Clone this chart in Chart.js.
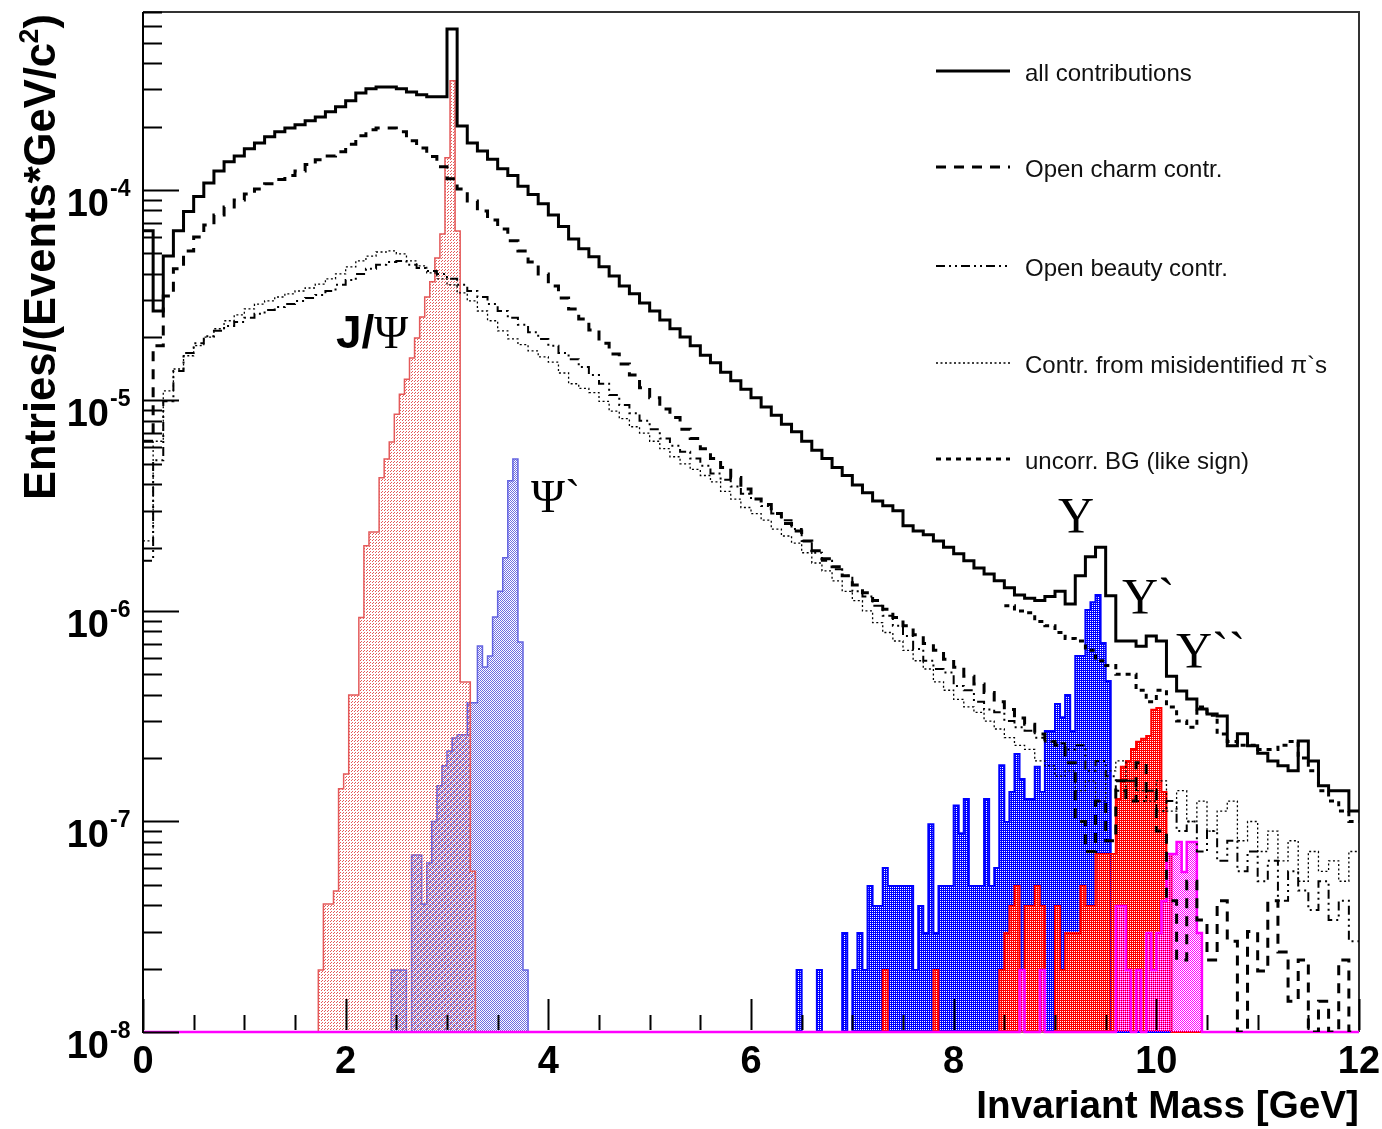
<!DOCTYPE html>
<html>
<head>
<meta charset="utf-8">
<script src="https://cdn.jsdelivr.net/npm/chart.js@4.4.1/dist/chart.umd.min.js"></script>
<style>
  html, body { margin: 0; padding: 0; background: #fff; }
  #wrap { width: 1382px; height: 1129px; position: relative; }
</style>
</head>
<body>
<div id="wrap"><canvas id="mass-chart"></canvas></div>
<script>
// ---- data (entries per 0.1 GeV bin for the backgrounds, 0.05 GeV for the resonances) ----
var FLOOR = 1e-8;
var bgStart = 0, bgWidth = 0.1;

var allContrib = [
  6.4e-5, 2.66e-5, 4.85e-5, 6.4e-5, 7.9e-5, 9.3e-5, 1.08e-4, 1.23e-4, 1.36e-4, 1.45e-4,
  1.57e-4, 1.67e-4, 1.79e-4, 1.89e-4, 1.97e-4, 2.04e-4, 2.13e-4, 2.22e-4, 2.35e-4, 2.48e-4,
  2.65e-4, 2.89e-4, 3.02e-4, 3.08e-4, 3.08e-4, 3.02e-4, 2.92e-4, 2.83e-4, 2.77e-4, 2.77e-4,
  5.82e-4, 2.01e-4, 1.67e-4, 1.53e-4, 1.40e-4, 1.26e-4, 1.17e-4, 1.04e-4, 9.5e-5, 8.6e-5,
  7.6e-5, 6.7e-5, 5.85e-5, 5.25e-5, 4.81e-5, 4.31e-5, 3.90e-5, 3.50e-5, 3.21e-5, 2.90e-5,
  2.66e-5, 2.41e-5, 2.19e-5, 2.00e-5, 1.82e-5, 1.64e-5, 1.51e-5, 1.36e-5, 1.24e-5, 1.13e-5,
  1.03e-5, 9.3e-6, 8.5e-6, 7.7e-6, 7.1e-6, 6.4e-6, 5.8e-6, 5.3e-6, 4.8e-6, 4.4e-6,
  3.97e-6, 3.64e-6, 3.33e-6, 3.16e-6, 2.99e-6, 2.54e-6, 2.40e-6, 2.30e-6, 2.15e-6, 2.01e-6,
  1.87e-6, 1.73e-6, 1.60e-6, 1.50e-6, 1.39e-6, 1.29e-6, 1.19e-6, 1.15e-6, 1.12e-6, 1.17e-6,
  1.24e-6, 1.08e-6, 1.47e-6, 1.81e-6, 2.01e-6, 1.18e-6, 7.2e-7, 7.2e-7, 6.8e-7, 7.6e-7,
  7.2e-7, 4.9e-7, 4.17e-7, 3.82e-7, 3.42e-7, 3.24e-7, 3.17e-7, 2.29e-7, 2.61e-7, 2.29e-7,
  2.11e-7, 1.94e-7, 1.84e-7, 1.74e-7, 2.41e-7, 1.94e-7, 1.48e-7, 1.40e-7, 1.40e-7, 1.12e-7
];

var openCharm = [
  6.4e-6, 1.82e-5, 3.13e-5, 4.22e-5, 5.13e-5, 5.98e-5, 6.82e-5, 7.6e-5, 8.3e-5, 8.95e-5,
  9.57e-5, 1.01e-4, 1.07e-4, 1.12e-4, 1.17e-4, 1.23e-4, 1.32e-4, 1.39e-4, 1.45e-4, 1.52e-4,
  1.65e-4, 1.81e-4, 1.93e-4, 1.97e-4, 1.97e-4, 1.89e-4, 1.71e-4, 1.58e-4, 1.44e-4, 1.29e-4,
  1.13e-4, 1.01e-4, 8.87e-5, 7.94e-5, 7.19e-5, 6.53e-5, 5.73e-5, 5.13e-5, 4.55e-5, 3.99e-5,
  3.50e-5, 3.07e-5, 2.72e-5, 2.44e-5, 2.16e-5, 1.87e-5, 1.66e-5, 1.49e-5, 1.32e-5, 1.15e-5,
  1.03e-5, 9.1e-6, 8.3e-6, 7.3e-6, 6.6e-6, 5.9e-6, 5.3e-6, 4.8e-6, 4.3e-6, 3.8e-6,
  3.4e-6, 3.2e-6, 2.9e-6, 2.6e-6, 2.4e-6, 2.15e-6, 1.93e-6, 1.77e-6, 1.62e-6, 1.47e-6,
  1.33e-6, 1.22e-6, 1.12e-6, 1.02e-6, 9.3e-7, 8.5e-7, 7.7e-7, 7.0e-7, 6.5e-7, 5.9e-7,
  5.4e-7, 4.9e-7, 4.5e-7, 4.1e-7, 3.7e-7, 3.4e-7, 3.1e-7, 2.9e-7, 2.6e-7, 2.4e-7,
  2.3e-7, 1.9e-7, 1.0e-7, 7.2e-8, 1.25e-7, 8.1e-8, 1.56e-7, 1.25e-7, 1.9e-7, 1.4e-7,
  9.0e-8, 4.2e-8, 2.2e-8, 5.2e-8, 3.4e-8, 2.2e-8, 4.2e-8, 2.7e-8, 1e-8, 3.0e-8,
  1.95e-8, 4.2e-8, 2.4e-8, 1.4e-8, 2.2e-8, 1e-8, 1.4e-8, 1e-8, 2.2e-8, 1e-8
];

var openBeauty = [
  1.73e-6, 5.2e-6, 9.9e-6, 1.38e-5, 1.68e-5, 1.87e-5, 2.02e-5, 2.14e-5, 2.26e-5, 2.36e-5,
  2.47e-5, 2.58e-5, 2.69e-5, 2.78e-5, 2.87e-5, 2.97e-5, 3.07e-5, 3.17e-5, 3.31e-5, 3.54e-5,
  3.73e-5, 3.99e-5, 4.22e-5, 4.41e-5, 4.55e-5, 4.6e-5, 4.41e-5, 4.26e-5, 4.12e-5, 3.99e-5,
  3.78e-5, 3.54e-5, 3.31e-5, 3.1e-5, 2.87e-5, 2.66e-5, 2.47e-5, 2.29e-5, 2.11e-5, 1.96e-5,
  1.82e-5, 1.68e-5, 1.57e-5, 1.44e-5, 1.32e-5, 1.2e-5, 1.06e-5, 9.5e-6, 8.7e-6, 8.0e-6,
  7.3e-6, 6.6e-6, 6.1e-6, 5.7e-6, 5.3e-6, 4.9e-6, 4.5e-6, 4.2e-6, 3.9e-6, 3.6e-6,
  3.4e-6, 3.15e-6, 2.9e-6, 2.7e-6, 2.45e-6, 2.15e-6, 1.89e-6, 1.73e-6, 1.58e-6, 1.47e-6,
  1.24e-6, 1.17e-6, 1.06e-6, 9.5e-7, 8.5e-7, 7.6e-7, 6.6e-7, 5.8e-7, 5.3e-7, 5.1e-7,
  4.4e-7, 4.2e-7, 3.7e-7, 3.4e-7, 3.3e-7, 3.0e-7, 2.8e-7, 2.7e-7, 2.5e-7, 2.4e-7,
  2.35e-7, 2.2e-7, 2.3e-7, 1.74e-7, 1.94e-7, 1.64e-7, 1.4e-7, 1.56e-7, 1.25e-7, 1.4e-7,
  1.12e-7, 1.25e-7, 9.0e-8, 1.0e-7, 7.2e-8, 9.0e-8, 6.5e-8, 8.1e-8, 5.8e-8, 7.2e-8,
  5.2e-8, 6.5e-8, 4.2e-8, 5.8e-8, 4.7e-8, 3.8e-8, 5.2e-8, 3.4e-8, 4.2e-8, 2.7e-8
];

var misidPions = [
  2.15e-6, 6.4e-6, 1.11e-5, 1.41e-5, 1.63e-5, 1.82e-5, 2.0e-5, 2.19e-5, 2.39e-5, 2.55e-5,
  2.72e-5, 2.87e-5, 2.97e-5, 3.1e-5, 3.21e-5, 3.31e-5, 3.42e-5, 3.57e-5, 3.78e-5, 3.99e-5,
  4.31e-5, 4.6e-5, 4.85e-5, 5.07e-5, 5.13e-5, 4.97e-5, 4.6e-5, 4.36e-5, 4.04e-5, 3.78e-5,
  3.54e-5, 3.24e-5, 2.97e-5, 2.66e-5, 2.39e-5, 2.14e-5, 1.96e-5, 1.84e-5, 1.72e-5, 1.61e-5,
  1.52e-5, 1.35e-5, 1.2e-5, 1.14e-5, 1.09e-5, 9.9e-6, 8.9e-6, 8.2e-6, 7.5e-6, 7.0e-6,
  6.4e-6, 5.9e-6, 5.4e-6, 5.0e-6, 4.7e-6, 4.4e-6, 4.1e-6, 3.7e-6, 3.4e-6, 3.1e-6,
  2.9e-6, 2.7e-6, 2.45e-6, 2.27e-6, 2.1e-6, 1.89e-6, 1.69e-6, 1.55e-6, 1.39e-6, 1.24e-6,
  1.12e-6, 1.0e-6, 8.8e-7, 7.9e-7, 7.2e-7, 6.5e-7, 5.8e-7, 5.3e-7, 4.6e-7, 4.2e-7,
  3.8e-7, 3.5e-7, 3.3e-7, 3.0e-7, 2.75e-7, 2.5e-7, 2.3e-7, 2.2e-7, 1.94e-7, 1.84e-7,
  1.64e-7, 1.74e-7, 1.4e-7, 1.56e-7, 1.25e-7, 1.74e-7, 1.94e-7, 1.56e-7, 1.4e-7, 1.25e-7,
  1.56e-7, 1.12e-7, 1.4e-7, 1.0e-7, 1.25e-7, 9.0e-8, 1.12e-7, 1.25e-7, 8.1e-8, 1.0e-7,
  7.2e-8, 9.0e-8, 6.5e-8, 8.1e-8, 5.2e-8, 7.2e-8, 5.8e-8, 6.5e-8, 5.2e-8, 7.2e-8
];

var likeSignStart = 8.5;
var likeSignBG = [
  1.06e-6, 1.0e-6, 9.8e-7, 8.9e-7, 8.5e-7, 7.9e-7, 7.4e-7, 7.2e-7, 6.5e-7, 5.8e-7,
  5.5e-7, 5.0e-7, 5.0e-7, 4.2e-7, 3.7e-7, 4.2e-7, 3.5e-7, 3.0e-7, 2.8e-7, 3.5e-7,
  3.2e-7, 2.6e-7, 2.4e-7, 2.3e-7, 2.3e-7, 2.2e-7, 2.2e-7, 2.3e-7, 2.4e-7, 2.0e-7,
  1.74e-7, 1.4e-7, 1.25e-7, 1.12e-7, 1.0e-7
];

var resWidth = 0.05;
var jpsiStart = 1.73;
var jpsiVals = [
  1.97e-8, 4.06e-8, 4.06e-8, 4.68e-8, 1.43e-7, 1.68e-7, 3.99e-7, 3.99e-7, 9.3e-7, 2.04e-6,
  2.37e-6, 2.37e-6, 4.29e-6, 5.27e-6, 6.35e-6, 8.6e-6, 1.07e-5, 1.26e-5, 1.59e-5, 1.98e-5,
  2.49e-5, 3.10e-5, 3.66e-5, 4.75e-5, 6.18e-5, 1.42e-4, 3.3e-4, 6.38e-5, 4.6e-7, 4.6e-7,
  5.8e-8
];
var psi2sStart = 2.45;
var psi2sVals = [
  1.97e-8, 1.97e-8, 1.97e-8, 1e-8, 6.93e-8, 6.93e-8, 4.06e-8, 6.35e-8, 1.0e-7, 1.48e-7,
  1.84e-7, 2.16e-7, 2.49e-7, 2.58e-7, 2.58e-7, 3.66e-7, 3.66e-7, 6.82e-7, 5.42e-7, 6.11e-7,
  9.35e-7, 1.24e-6, 1.79e-6, 4.15e-6, 5.27e-6, 7.13e-7, 1.97e-8
];
var ups1sStart = 6.45;
var ups1sVals = [
  1.97e-8, 1e-8, 1e-8, 1e-8, 1.97e-8, 1e-8, 1e-8, 1e-8, 1e-8, 2.95e-8,
  1e-8, 1.97e-8, 2.95e-8, 1.97e-8, 4.94e-8, 3.97e-8, 3.97e-8, 6.01e-8, 4.94e-8, 4.94e-8,
  4.94e-8, 4.94e-8, 4.94e-8, 1.97e-8, 3.97e-8, 2.95e-8, 9.7e-8, 2.95e-8, 4.94e-8, 4.94e-8,
  4.94e-8, 1.19e-7, 8.8e-8, 1.28e-7, 4.94e-8, 4.94e-8, 4.94e-8, 1.28e-7, 4.94e-8, 6.01e-8,
  1.85e-7, 9.95e-8, 1.38e-7, 2.09e-7, 1.59e-7, 1.28e-7, 1.28e-7, 1.82e-7, 1.38e-7, 2.69e-7,
  2.69e-7, 3.61e-7, 3.13e-7, 3.99e-7, 2.69e-7, 6.11e-7, 6.11e-7, 1.01e-6, 1.10e-6, 1.19e-6,
  7.05e-7, 4.65e-7
];
var ups2sStart = 7.30;
var ups2sVals = [
  1.97e-8, 1e-8, 1e-8, 1e-8, 1e-8, 1e-8, 1e-8, 1e-8, 1e-8, 1e-8,
  1.97e-8, 1e-8, 1e-8, 1e-8, 1e-8, 1e-8, 1e-8, 1e-8, 1e-8, 1e-8,
  1e-8, 1e-8, 1e-8, 1.97e-8, 2.95e-8, 3.97e-8, 4.94e-8, 1.97e-8, 3.97e-8, 3.97e-8,
  4.94e-8, 3.97e-8, 1e-8, 1e-8, 3.97e-8, 1.97e-8, 2.95e-8, 2.95e-8, 2.95e-8, 4.94e-8,
  3.97e-8, 3.97e-8, 7.0e-8, 7.0e-8, 7.0e-8, 7.0e-8, 1.28e-7, 1.82e-7, 1.94e-7, 2.21e-7,
  2.39e-7, 2.47e-7, 2.55e-7, 3.39e-7, 3.46e-7, 1.38e-7, 7.0e-8
];
var ups3sStart = 8.65;
var ups3sVals = [
  1.97e-8, 1e-8, 1e-8, 1e-8, 1.97e-8, 1e-8, 1e-8, 1e-8, 1e-8, 1e-8,
  1e-8, 1e-8, 1e-8, 1e-8, 1e-8, 1e-8, 1e-8, 1e-8, 1e-8, 3.97e-8,
  3.97e-8, 1.97e-8, 1e-8, 1.97e-8, 1e-8, 2.95e-8, 1.97e-8, 2.95e-8, 4.19e-8, 7.0e-8,
  7.0e-8, 8.0e-8, 5.75e-8, 8.0e-8, 8.0e-8, 2.95e-8
];

var xTickLabels = ['0', '2', '4', '6', '8', '10', '12'];
var yTickExponents = [-8, -7, -6, -5, -4];
var legendLabels = ['all contributions', 'Open charm contr.', 'Open beauty contr.',
                    'Contr. from misidentified \u03c0`s', 'uncorr. BG (like sign)'];

// ---- helpers ----
var SANS = '"Liberation Sans", Arial, Helvetica, sans-serif';
var SERIF = '"Liberation Serif", "Times New Roman", serif';

// histogram bins -> points for a step line (value i spans bin i)
function histPoints(start, width, vals, closed) {
    var pts = [];
    if (closed) {
        pts.push({ x: 0, y: FLOOR });
        pts.push({ x: start, y: FLOOR });
    }
    for (var i = 0; i < vals.length; i++) {
        pts.push({ x: +(start + i * width).toFixed(4), y: vals[i] });
    }
    var end = +(start + vals.length * width).toFixed(4);
    pts.push({ x: end, y: vals[vals.length - 1] });
    if (closed) {
        pts.push({ x: end, y: FLOOR });
        pts.push({ x: 12, y: FLOOR });
    }
    return pts;
}

// ROOT-like dotted fill
function dotPattern(color, size, cells) {
    var c = document.createElement('canvas');
    c.width = size; c.height = size;
    var g = c.getContext('2d');
    g.fillStyle = color;
    cells.forEach(function(p) { g.fillRect(p[0], p[1], 1, 1); });
    return g.createPattern(c, 'repeat');
}

function lineSet(label, vals, start, dash, width) {
    return {
        label: label,
        data: histPoints(start, bgWidth, vals, false),
        borderColor: '#000',
        borderWidth: width,
        borderDash: dash,
        borderCapStyle: 'butt',
        borderJoinStyle: 'miter',
        stepped: 'before',
        fill: false,
        pointRadius: 0
    };
}

function fillSet(label, start, vals, lineColor, pattern, width) {
    return {
        label: label,
        data: histPoints(start, resWidth, vals, true),
        borderColor: lineColor,
        backgroundColor: pattern,
        borderWidth: width,
        stepped: 'before',
        fill: 'start',
        pointRadius: 0,
        // let the empty-bin line show on the x axis
        clip: { left: 0, top: 0, right: 2, bottom: 3 }
    };
}

// ---- decorations drawn ROOT style (frame, inner ticks, superscript labels, legend, peak names) ----
var rootDecor = {
    id: 'rootDecor',
    beforeDatasetsDraw: function(chart) {
        // frame goes under the histograms, so the magenta empty-bin line covers the x axis
        var ctx = chart.ctx, a = chart.chartArea;
        ctx.save();
        ctx.lineWidth = 2;
        ctx.strokeStyle = '#333';
        ctx.beginPath();
        ctx.moveTo(a.left, a.top); ctx.lineTo(a.right, a.top); ctx.lineTo(a.right, a.bottom);
        ctx.stroke();
        ctx.strokeStyle = '#000';
        ctx.beginPath();
        ctx.moveTo(a.left, a.top); ctx.lineTo(a.left, a.bottom); ctx.lineTo(a.right, a.bottom);
        ctx.stroke();
        ctx.restore();
    },
    afterDatasetsDraw: function(chart) {
        var ctx = chart.ctx, a = chart.chartArea;
        var xs = chart.scales.x, ys = chart.scales.y;
        ctx.save();

        // left axis line again on top
        ctx.strokeStyle = '#000';
        ctx.lineWidth = 2;
        ctx.beginPath();
        ctx.moveTo(a.left, a.top); ctx.lineTo(a.left, a.bottom);
        ctx.stroke();

        // y ticks
        ctx.beginPath();
        yTickExponents.forEach(function(k) {
            for (var m = 1; m <= 9; m++) {
                var v = m * Math.pow(10, k);
                if (v > ys.max) break;
                var py = Math.round(ys.getPixelForValue(v)) + 0.5;
                ctx.moveTo(a.left, py);
                ctx.lineTo(a.left + (m === 1 ? 36 : 19), py);
            }
        });
        // x ticks
        for (var t = 0; t <= 24; t++) {
            var mv = t * 0.5;
            var px = Math.round(xs.getPixelForValue(mv)) + 0.5;
            ctx.moveTo(px, a.bottom - 2);
            ctx.lineTo(px, a.bottom - (t % 4 === 0 ? 33 : 17));
        }
        ctx.stroke();

        // y labels 10^k
        ctx.fillStyle = '#000';
        yTickExponents.forEach(function(k) {
            var py = ys.getPixelForValue(Math.pow(10, k));
            ctx.font = 'bold 38px ' + SANS;
            ctx.textAlign = 'right';
            ctx.textBaseline = 'alphabetic';
            ctx.fillText('10', 109, py + 26);
            ctx.font = 'bold 23px ' + SANS;
            ctx.textAlign = 'left';
            ctx.fillText(String(k), 110, py + 6);
        });
        // x labels
        ctx.font = 'bold 38px ' + SANS;
        ctx.textAlign = 'center';
        xTickLabels.forEach(function(s) {
            ctx.fillText(s, xs.getPixelForValue(+s), 1073);
        });

        // axis titles
        var xt = 'Invariant Mass [GeV]';
        ctx.font = 'bold 38px ' + SANS;
        var fsx = 38 * 383 / ctx.measureText(xt).width;
        ctx.font = 'bold ' + fsx.toFixed(1) + 'px ' + SANS;
        ctx.textAlign = 'right';
        ctx.fillText(xt, a.right, 1118);

        var yt1 = 'Entries/(Events*GeV/c', yt2 = '2', yt3 = ')';
        ctx.font = 'bold 42px ' + SANS;
        var w1 = ctx.measureText(yt1).width, w3 = ctx.measureText(yt3).width;
        ctx.font = 'bold 26px ' + SANS;
        var w2 = ctx.measureText(yt2).width;
        var sc = 486 / (w1 + w2 + w3);
        ctx.save();
        ctx.translate(55, 14);
        ctx.rotate(-Math.PI / 2);
        ctx.textAlign = 'left';
        var x0 = -(w1 + w2 + w3) * sc;
        ctx.font = 'bold ' + (42 * sc).toFixed(1) + 'px ' + SANS;
        ctx.fillText(yt1, x0, 0);
        ctx.font = 'bold ' + (26 * sc).toFixed(1) + 'px ' + SANS;
        ctx.fillText(yt2, x0 + w1 * sc, -17);
        ctx.font = 'bold ' + (42 * sc).toFixed(1) + 'px ' + SANS;
        ctx.fillText(yt3, x0 + (w1 + w2) * sc, 0);
        ctx.restore();

        // legend
        var ly = [71, 167, 266, 363, 459];
        for (var i = 0; i < legendLabels.length; i++) {
            var ds = chart.data.datasets[i];
            ctx.strokeStyle = '#000';
            ctx.lineWidth = ds.borderWidth;
            ctx.setLineDash(ds.borderDash || []);
            ctx.beginPath();
            ctx.moveTo(936, ly[i]);
            ctx.lineTo(1010, ly[i]);
            ctx.stroke();
            ctx.setLineDash([]);
            ctx.fillStyle = '#111';
            ctx.font = '24px ' + SANS;
            ctx.textAlign = 'left';
            ctx.textBaseline = 'middle';
            ctx.fillText(legendLabels[i], 1025, ly[i] + 3);
        }

        // resonance names
        ctx.fillStyle = '#000';
        ctx.textBaseline = 'alphabetic';
        ctx.textAlign = 'left';
        ctx.font = 'bold 46px ' + SANS;
        ctx.fillText('J/', 336, 348);
        var jw = ctx.measureText('J/').width;
        ctx.font = '46px ' + SERIF;
        ctx.fillText('\u03a8', 336 + jw, 348);
        ctx.fillText('\u03a8`', 531, 512);
        ctx.font = '50px ' + SERIF;
        ctx.fillText('\u03a5', 1058, 532);
        ctx.fillText('\u03a5`', 1122, 613);
        ctx.fillText('\u03a5``', 1176, 667);

        ctx.restore();
    }
};

// ---- chart ----
var jpsiFill = dotPattern('rgb(228,90,90)', 3, [[0, 0], [1, 2]]);
var psi2sFill = dotPattern('rgb(110,110,225)', 2, [[0, 0], [1, 1]]);
var ups1sFill = dotPattern('rgb(0,0,255)', 2, [[0, 0], [1, 1], [1, 0]]);
var ups2sFill = dotPattern('rgb(255,0,0)', 2, [[0, 0], [1, 1], [1, 0]]);
var ups3sFill = dotPattern('rgb(255,0,255)', 2, [[0, 0], [1, 1]]);

var ctx = document.getElementById('mass-chart');
var chart = new Chart(ctx, {
    type: 'line',
    data: {
        datasets: [
            // the line histograms first so they sit on top of the filled peaks
            lineSet(legendLabels[0], allContrib, bgStart, [], 3),
            lineSet(legendLabels[1], openCharm, bgStart, [10, 8], 3),
            lineSet(legendLabels[2], openBeauty, bgStart, [9, 4, 2, 4, 2, 4], 2),
            lineSet(legendLabels[3], misidPions, bgStart, [2, 2.5], 1.3),
            lineSet(legendLabels[4], likeSignBG, likeSignStart, [5, 5], 3),
            fillSet('Upsilon(3S)', ups3sStart, ups3sVals, 'rgb(255,0,255)', ups3sFill, 2.5),
            fillSet('Upsilon(2S)', ups2sStart, ups2sVals, 'rgb(255,0,0)', ups2sFill, 2),
            fillSet('Upsilon(1S)', ups1sStart, ups1sVals, 'rgb(0,0,255)', ups1sFill, 2),
            fillSet('J/psi', jpsiStart, jpsiVals, 'rgb(228,90,90)', jpsiFill, 1.5),
            fillSet('psi(2S)', psi2sStart, psi2sVals, 'rgb(100,100,225)', psi2sFill, 1.5)
        ]
    },
    options: {
        responsive: true,
        maintainAspectRatio: false,
        animation: false,
        layout: { padding: { left: 143, top: 12, right: 23, bottom: 97 } },
        scales: {
            x: { type: 'linear', min: 0, max: 12, display: false },
            y: { type: 'logarithmic', min: 1e-8, max: 7e-4, display: false }
        },
        plugins: {
            legend: { display: false },
            tooltip: { enabled: false }
        }
    },
    plugins: [rootDecor]
});
</script>
</body>
</html>
